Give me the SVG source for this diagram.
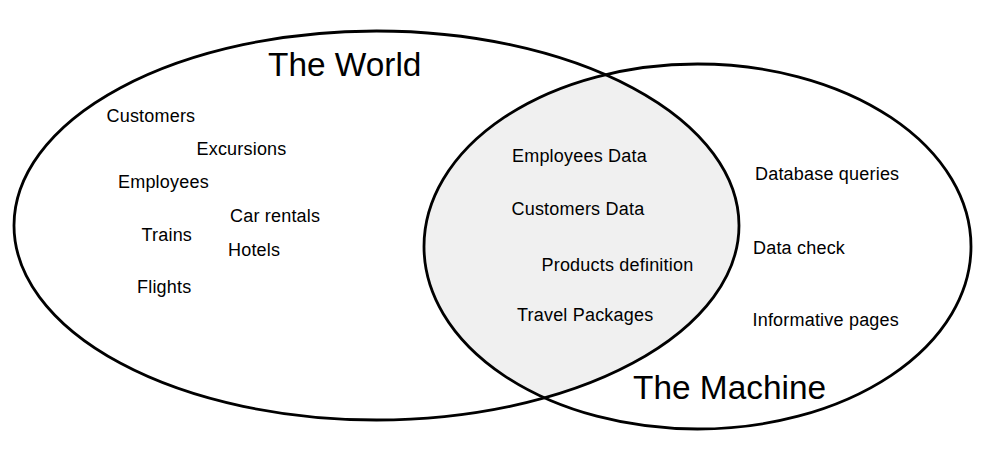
<svg xmlns="http://www.w3.org/2000/svg" width="981" height="461" viewBox="0 0 981 461">
  <style>
    .set { fill: none; stroke: #000; stroke-width: 2.8; }
    .item { font-family: "Liberation Sans", Arial, sans-serif; font-size: 18px; letter-spacing: 0.2px; fill: #000; }
    .title { font-family: "Liberation Sans", Arial, sans-serif; font-size: 33.4px; fill: #000; }
  </style>
  <defs>
    <clipPath id="world-clip">
      <ellipse cx="376.5" cy="225.5" rx="362.5" ry="194.5"/>
    </clipPath>
  </defs>
  <rect width="981" height="461" fill="#fff"/>

  <!-- shared region of the two sets -->
  <g id="overlap">
    <ellipse cx="697.5" cy="246.5" rx="273.5" ry="182.5" fill="#f0f0f0" clip-path="url(#world-clip)"/>
  </g>

  <g id="world">
    <ellipse class="set" cx="376.5" cy="225.5" rx="362.5" ry="194.5"/>
    <text class="title" x="268" y="76">The World</text>
    <text class="item" x="106.5" y="121.5">Customers</text>
    <text class="item" x="196.5" y="154.5">Excursions</text>
    <text class="item" x="118" y="187.5">Employees</text>
    <text class="item" x="230" y="221.5">Car rentals</text>
    <text class="item" x="141.5" y="241">Trains</text>
    <text class="item" x="228" y="255.5">Hotels</text>
    <text class="item" x="137" y="292.5">Flights</text>
  </g>

  <g id="machine">
    <ellipse class="set" cx="697.5" cy="246.5" rx="273.5" ry="182.5"/>
    <text class="title" x="633" y="399">The Machine</text>
    <text class="item" x="755" y="180">Database queries</text>
    <text class="item" x="753" y="254">Data check</text>
    <text class="item" x="752.5" y="325.5">Informative pages</text>
  </g>

  <g id="shared">
    <text class="item" x="512" y="162">Employees Data</text>
    <text class="item" x="511.5" y="215">Customers Data</text>
    <text class="item" x="541.5" y="271">Products definition</text>
    <text class="item" x="517" y="320.5">Travel Packages</text>
  </g>
</svg>
